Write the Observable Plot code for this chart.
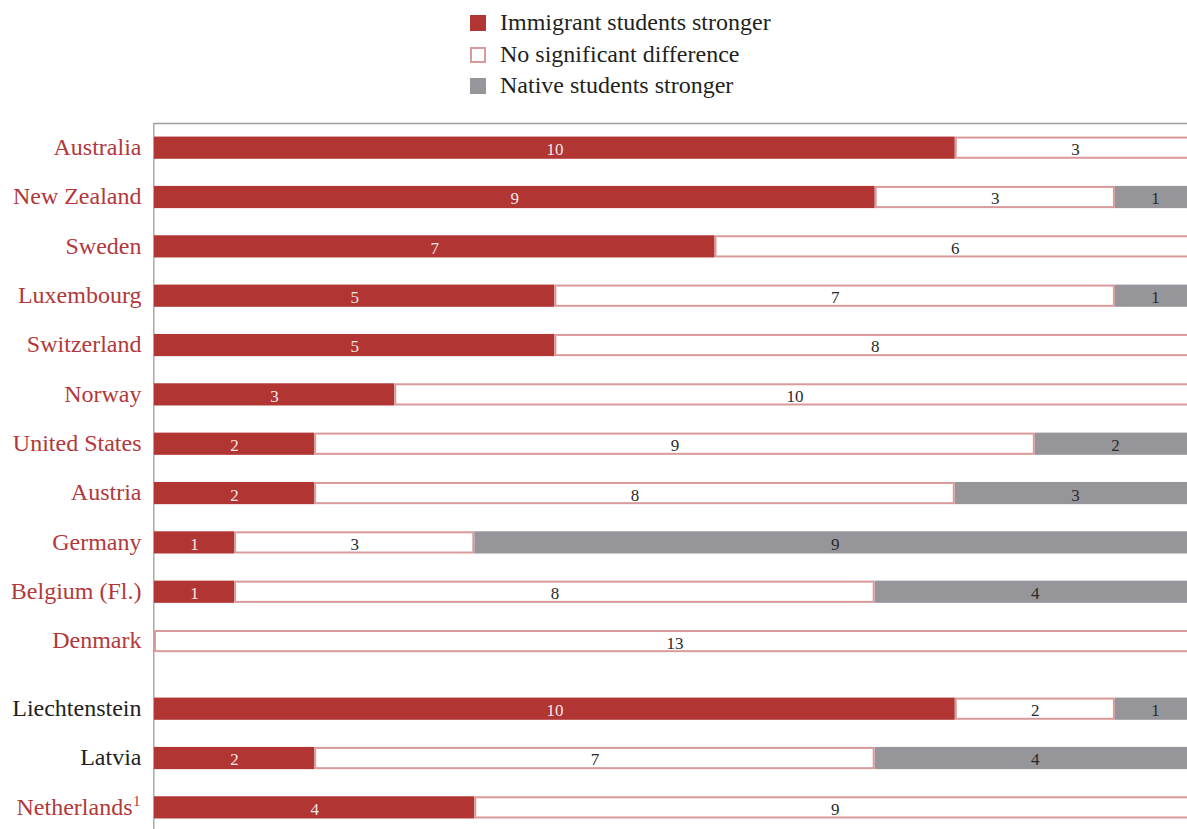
<!DOCTYPE html>
<html>
<head>
<meta charset="utf-8">
<script src="https://cdn.jsdelivr.net/npm/d3@7"></script>
<script src="https://cdn.jsdelivr.net/npm/@observablehq/plot@0.6"></script>
<style>
  html, body { margin: 0; padding: 0; background: #fff; overflow: hidden; }
  body { width: 1187px; height: 829px; font-family: "Liberation Serif", "DejaVu Serif", serif; }
  #legend { position: relative; height: 110px; width: 1187px; }
  .item { position: absolute; left: 470px; height: 30px; }
  .swatch { position: absolute; left: 0; width: 16px; height: 16px; box-sizing: border-box; }
  .label { position: absolute; left: 30px; font-size: 24px; line-height: 24px; white-space: nowrap; color: #231F20; }
  #chart { width: 1200px; }
  #chart svg { display: block; overflow: visible; max-width: none !important; width: 1200px; height: 725px; }
</style>
</head>
<body>
<div id="legend"></div>
<div id="chart"></div>
<script>
// Countries, top to bottom
const countries = ["Australia", "New Zealand", "Sweden", "Luxembourg", "Switzerland", "Norway",
  "United States", "Austria", "Germany", "Belgium (Fl.)", "Denmark",
  "Liechtenstein", "Latvia", "Netherlands"];
// Number of comparisons in each outcome
const immigrantStronger = [10, 9, 7, 5, 5, 3, 2, 2, 1, 1, 0, 10, 2, 4];
const noDifference      = [3, 3, 6, 7, 8, 10, 9, 8, 3, 8, 13, 2, 7, 9];
const nativeStronger    = [0, 1, 0, 1, 0, 0, 2, 3, 9, 4, 0, 1, 4, 0];
// OECD membership (labels in red) and block the country belongs to
const isOECD  = [1, 1, 1, 1, 1, 1, 1, 1, 1, 1, 1, 0, 0, 1];
const block   = [0, 0, 0, 0, 0, 0, 0, 0, 0, 0, 0, 1, 1, 1];
const notes   = ["", "", "", "", "", "", "", "", "", "", "", "", "", "1"];
const legendLabels = ["Immigrant students stronger", "No significant difference", "Native students stronger"];

const RED = "#B03533", PINK = "#D99A9B", GREY = "#96969A", INK = "#231F20", LABEL_RED = "#B2383A";
const blockGap = 0.37;      // extra spacing between the two blocks, in rows
const half = 0.225;         // half bar thickness, in rows

// Legend
const legend = document.getElementById("legend");
const swatchStyles = [
  `background:${RED};`,
  `background:#fff;border:2px solid ${PINK};`,
  `background:${GREY};`
];
const legendTops = [15, 47, 78];
legendLabels.forEach((t, i) => {
  const item = document.createElement("div");
  item.className = "item";
  item.style.top = legendTops[i] + "px";
  item.innerHTML = `<div class="swatch" style="${swatchStyles[i]}"></div><div class="label" style="top:-5px">${t}</div>`;
  legend.appendChild(item);
});

// Rows and stacked segments
const rows = countries.map((name, i) => ({
  name, pos: i + block[i] * blockGap, oecd: isOECD[i], note: notes[i]
}));
const segs = [];
rows.forEach((r, i) => {
  const vals = [immigrantStronger[i], noDifference[i], nativeStronger[i]];
  let start = 0;
  vals.forEach((v, k) => {
    if (v > 0) segs.push({ name: r.name, pos: r.pos, kind: k, value: v, x1: start, x2: start + v });
    start += v;
  });
});
const filled = segs.filter(d => d.kind !== 1);
const hollow = segs.filter(d => d.kind === 1);
const plainRows = rows.filter(d => !d.note);
const notedRows = rows.filter(d => d.note);

const chart = Plot.plot({
  width: 1200,
  height: 725,
  marginLeft: 154,
  marginRight: 5,
  marginTop: 13,
  marginBottom: 0,
  x: { domain: [0, 13], axis: null },
  y: { domain: [-0.5, 13.93], reverse: true, axis: null },
  style: { fontFamily: "'Liberation Serif', 'DejaVu Serif', serif", background: "transparent", overflow: "visible" },
  marks: [
    Plot.ruleY([-0.5], { x1: () => 0, x2: () => 13, stroke: "#9d9d9d", strokeWidth: 1.3 }),
    Plot.ruleX([0], { y1: () => -0.5, y2: () => 13.93, stroke: "#9d9d9d", strokeWidth: 1.3, dx: -0.7 }),
    Plot.rect(filled, {
      x1: "x1", x2: "x2", y1: d => d.pos - half, y2: d => d.pos + half,
      fill: d => d.kind === 0 ? RED : GREY
    }),
    Plot.rect(hollow, {
      x1: "x1", x2: "x2", y1: d => d.pos - half, y2: d => d.pos + half,
      fill: "#fff", stroke: PINK, strokeWidth: 2, inset: 1
    }),
    Plot.text(segs, {
      x: d => (d.x1 + d.x2) / 2, y: "pos", text: d => String(d.value), dy: 1.5,
      fill: d => d.kind === 0 ? "#F7E6E6" : "#2a2a2a", fontSize: 17
    }),
    Plot.text(plainRows, {
      x: () => 0, y: "pos", text: "name", textAnchor: "end", dx: -13, dy: -1,
      fill: d => d.oecd ? LABEL_RED : INK, fontSize: 24
    }),
    Plot.text(notedRows, {
      x: () => 0, y: "pos", text: "name", textAnchor: "end", dx: -22, dy: -1,
      fill: d => d.oecd ? LABEL_RED : INK, fontSize: 24
    }),
    Plot.text(notedRows, {
      x: () => 0, y: "pos", text: "note", textAnchor: "end", dx: -14, dy: -7,
      fill: d => d.oecd ? LABEL_RED : INK, fontSize: 15
    })
  ]
});
document.getElementById("chart").appendChild(chart);
</script>
</body>
</html>
